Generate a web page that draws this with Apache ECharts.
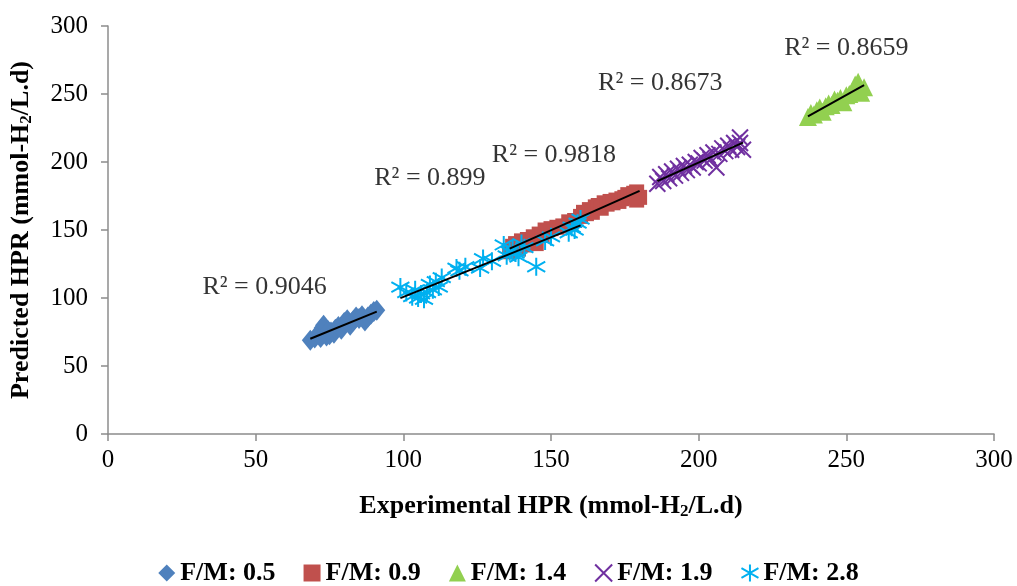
<!DOCTYPE html>
<html><head><meta charset="utf-8">
<script src="https://cdn.jsdelivr.net/npm/echarts@6/dist/echarts.min.js"></script>
<style>html,body{margin:0;padding:0;background:#fff}#c{width:1017px;height:586px}</style>
</head><body><div id="c"></div>
<script>
const seriesNames = ['F/M: 0.5','F/M: 0.9','F/M: 1.4','F/M: 1.9','F/M: 2.8'];
const fm05 = [[68.5,69],[70,70.5],[71.5,74],[72.5,78],[73,80],[74,72],[75,73],[75.5,75],[76.5,74],[77,77],[78,79],[79,77],[80,82],[81,84],[82,80],[83,83],[84,86],[85,85],[86,87],[87,83],[88,86],[89,88],[90,90],[91,91],[72,71],[74.5,76]];
const fm09 = [[136,134],[137,138],[138,140],[139,136],[140,142],[141,139],[142,143],[143,141],[144,145],[145,140],[146,147],[147,146],[148,150],[150,151],[152,152],[154,153],[156,156],[158,157],[160,160],[161,163],[162,162],[163,165],[164,163],[165,167],[166,168],[167,166],[168,170],[169,169],[170,171],[171,170],[172,172],[173,171],[174,173],[175,174],[176,176],[177,175],[178,177],[179,178],[180,174],[179,172]];
const fm14 = [[237,233],[238,236],[239,235],[240,238],[241,240],[242,237],[243,241],[244,243],[245,242],[246,246],[247,245],[248,247],[249,244],[250,249],[251,250],[252,252],[253,257],[254,259],[254,254],[255,251],[256,255]];
const fm19 = [[186,184],[187,189],[188,186],[189,191],[190,188],[191,193],[192,190],[193,195],[194,192],[195,197],[196,194],[197,198],[198,196],[199,200],[200,199],[201,203],[202,201],[203,205],[204,202],[205,207],[206,196],[207,206],[208,210],[209,208],[210,212],[211,209],[212,214],[213,211],[214,218],[215,209],[214,214]];
const fm28 = [[99,108],[101,104],[103,101],[104,106],[105,100],[106,103],[107,99],[108,104],[109,110],[110,106],[111,112],[112,108],[113,115],[118,122],[119,120],[121,123],[126,122],[127,129],[130,127],[134,139],[135,131],[136,134],[137,136],[138,133],[139,130],[140,140],[141,137],[145,123],[148,142],[150,145],[156,148],[157,152],[158,150],[159,155],[160,158]];
const r2Text = ['R² = 0.9046','R² = 0.9818','R² = 0.8659','R² = 0.8673','R² = 0.899'];
const r2Anchor = [[53,108],[151,205],[250,284],[187,258],[109,188]];
const xTicks = [0,50,100,150,200,250,300];
const yTicks = [0,50,100,150,200,250,300];

const colors = ['#4F81BD','#C0504D','#92D050','#7030A0','#00B0F0'];
const symbols = ['diamond','rect','triangle','path://M0,0L10,10M10,0L0,10','path://M5,0L5,10M0,2.2L10,7.8M0,7.8L10,2.2'];
const sizes = [[17,21],15,18,16,18];
const allData = [fm05, fm09, fm14, fm19, fm28];

function fit(d){
  const n=d.length; let sx=0,sy=0,sxx=0,sxy=0,mn=Infinity,mx=-Infinity;
  d.forEach(([x,y])=>{sx+=x;sy+=y;sxx+=x*x;sxy+=x*y;mn=Math.min(mn,x);mx=Math.max(mx,x);});
  const b=(n*sxy-sx*sy)/(n*sxx-sx*sx), a=(sy-b*sx)/n;
  return [[mn,a+b*mn],[mx,a+b*mx]];
}
const font = 'Liberation Serif';
const series = [];
allData.forEach((d,i)=>{
  const stroke = i>=3;
  series.push({
    name: seriesNames[i], type:'scatter', data:d, symbol:symbols[i], symbolSize:sizes[i],
    itemStyle: stroke ? {color:'rgba(0,0,0,0)', borderColor:colors[i], borderWidth:2, opacity:1} : {color:colors[i], opacity:1},
    z: 2
  });
});
allData.forEach((d,i)=>{
  series.push({type:'line', data:fit(d), symbol:'none', lineStyle:{color:'#000',width:2}, z:5, silent:true});
});
series.push({type:'scatter', data:r2Anchor.map((p,i)=>({value:p, name:r2Text[i]})), symbolSize:0, silent:true,
  label:{show:true, position:'inside', formatter:p=>p.name, color:'#000', fontFamily:font, fontSize:26}});

const axisCommon = {
  min:0, max:300, interval:50,
  axisLine:{show:true, lineStyle:{color:'#8c8c8c', width:1.5}},
  axisTick:{show:true, inside:false, length:7, lineStyle:{color:'#8c8c8c', width:1.5}},
  splitLine:{show:false},
  axisLabel:{color:'#000', fontFamily:font, fontSize:25},
  nameLocation:'middle',
  nameTextStyle:{color:'#000', fontFamily:font, fontSize:26, fontWeight:'bold',
    rich:{a:{fontFamily:font,fontSize:26,fontWeight:'bold',color:'#000'}, s:{fontFamily:font,fontSize:17,fontWeight:'bold',color:'#000',verticalAlign:'bottom', padding:[11,0,0,0]}}}
};
const chart = echarts.init(document.getElementById('c'), null, {renderer:'canvas'});
chart.setOption({
  animation:false,
  backgroundColor:'#fff',
  grid:{left:108, right:23, top:26, bottom:152, containLabel:false},
  xAxis:Object.assign({}, axisCommon, {type:'value', name:'{a|Experimental HPR (mmol-H}{s|2}{a|/L.d)}', nameGap:58,
    axisLabel:Object.assign({}, axisCommon.axisLabel, {margin:14, formatter:v=>xTicks.includes(v)?String(v):''})}),
  yAxis:Object.assign({}, axisCommon, {type:'value', name:'{a|Predicted HPR (mmol-H}{s|2}{a|/L.d)}', nameGap:73,
    axisLabel:Object.assign({}, axisCommon.axisLabel, {margin:20, formatter:v=>yTicks.includes(v)?String(v):''})}),
  legend:{data:seriesNames, top:555, left:'center', itemGap:28, itemWidth:17, itemHeight:17,
    textStyle:{fontFamily:font, fontSize:26, fontWeight:'bold', color:'#000'}},
  series
});
</script></body></html>
